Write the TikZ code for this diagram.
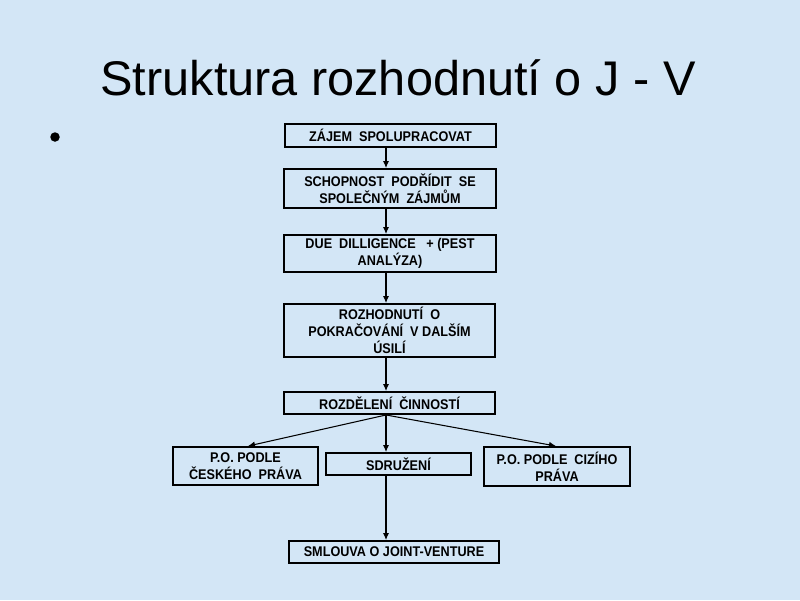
\documentclass[tikz,border=0pt]{standalone}
\usepackage{fontspec}
\setmainfont{Liberation Sans}
\newfontfamily\boxfont[FakeStretch=0.9]{Liberation Sans}
\usepackage{xcolor}
\usetikzlibrary{arrows.meta}
\definecolor{slideblue}{HTML}{D3E6F6}

\tikzset{
    stepbox/.style={draw, line width=1.1pt, align=center, inner sep=0pt,
        font=\boxfont\fontsize{8}{9.5}\selectfont\bfseries},
    flow/.style={-{Latex[length=4pt,width=3.5pt]}, line width=0.6pt}
}

\begin{document}
\begin{tikzpicture}[x=0.02cm, y=-0.02cm]
        % Slide
        \fill[slideblue] (0,0) rectangle (800,600);
        \useasboundingbox (0,0) rectangle (800,600);
        \node (T) at (398,78) {\fontsize{27.7}{33}\selectfont Struktura rozhodnutí o J - V};
        \node[circle, fill=black, inner sep=0pt, minimum size=0.19cm] (B) at (55,137) {};
        % Boxes
        \node[stepbox, minimum width=4.22cm, minimum height=0.46cm] (Z) at (390.5,135.5) {ZÁJEM \ SPOLUPRACOVAT};
        \node[stepbox, minimum width=4.24cm, minimum height=0.78cm] (S) at (390,188.5) {SCHOPNOST \ PODŘÍDIT \ SE\\SPOLEČNÝM \ ZÁJMŮM};
        \node[stepbox, minimum width=4.24cm, minimum height=0.74cm] (D) at (390,253.5) {DUE \ DILLIGENCE \ \ + (PEST\\ANALÝZA)};
        \node[stepbox, minimum width=4.22cm, minimum height=1.06cm] (R) at (389.5,330.5) {ROZHODNUTÍ \ O\\POKRAČOVÁNÍ \ V DALŠÍM\\ÚSILÍ};
        \node[stepbox, minimum width=4.22cm, minimum height=0.44cm] (C) at (389.5,403) {ROZDĚLENÍ \ ČINNOSTÍ};
        \node[stepbox, minimum width=2.9cm, minimum height=0.76cm] (PC) at (245.5,466) {P.O. PODLE\\ČESKÉHO \ PRÁVA};
        \node[stepbox, minimum width=2.9cm, minimum height=0.44cm] (SD) at (398.5,464) {SDRUŽENÍ};
        \node[stepbox, minimum width=2.92cm, minimum height=0.78cm] (PZ) at (557,466.5) {P.O. PODLE \ CIZÍHO\\PRÁVA};
        \node[stepbox, minimum width=4.2cm, minimum height=0.44cm] (J) at (394,552) {SMLOUVA O JOINT-VENTURE};
        % Arrows
        \path[flow] (Z.south -| 386,0) edge (S.north -| 386,0);
        \path[flow] (S.south -| 386,0) edge (D.north -| 386,0);
        \path[flow] (D.south -| 386,0) edge (R.north -| 386,0);
        \path[flow] (R.south -| 386,0) edge (C.north -| 386,0);
        \coordinate (CS) at (C.south -| 386,0);
        \path[flow] (CS) edge (PC.north -| 248,0);
        \path[flow] (CS) edge (SD.north -| 386,0);
        \path[flow] (CS) edge (PZ.north -| 556,0);
        \path[flow] (SD.south -| 386,0) edge (J.north -| 386,0);
    \end{tikzpicture}
\end{document}
